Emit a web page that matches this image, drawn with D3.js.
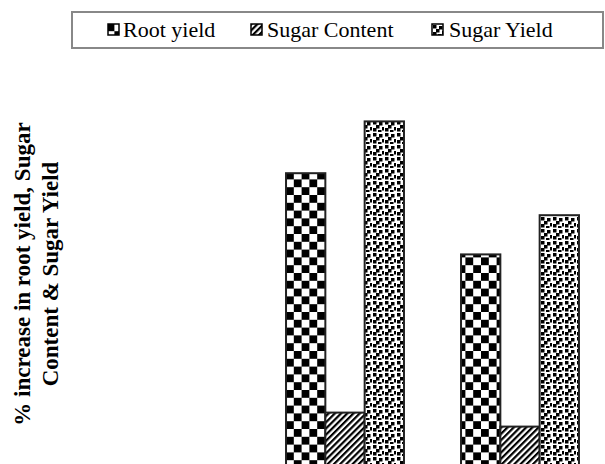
<!DOCTYPE html>
<html><head><meta charset="utf-8">
<script src="https://cdn.jsdelivr.net/npm/d3@7"></script>
<style>body{margin:0;background:#fff}svg{display:block}</style>
</head><body>
<script>
const groups = ["Group 1", "Group 2"];
const seriesNames = ["Root yield", "Sugar Content", "Sugar Yield"];
const rootYield = [21.2, 15.4];
const sugarContent = [4.1, 3.1];
const sugarYield = [24.9, 18.2];
const yTitleLines = ["% increase in root yield, Sugar", "Content & Sugar Yield"];

const W = 605, H = 464;
const svg = d3.select("body").append("svg").attr("width", W).attr("height", H);
const defs = svg.append("defs");

// checkerboard
const s = 7.8;
const pc = defs.append("pattern").attr("id", "p0").attr("patternUnits", "userSpaceOnUse")
  .attr("width", 2*s).attr("height", 2*s).attr("x", 286).attr("y", 0);
pc.append("rect").attr("width", 2*s).attr("height", 2*s).attr("fill", "#fff");
pc.append("rect").attr("width", s).attr("height", s).attr("fill", "#000");
pc.append("rect").attr("x", s).attr("y", s).attr("width", s).attr("height", s).attr("fill", "#000");
// diagonal
const pd = defs.append("pattern").attr("id", "p1").attr("patternUnits", "userSpaceOnUse")
  .attr("width", 4.4).attr("height", 4.4).attr("patternTransform", "rotate(45)");
pd.append("rect").attr("width", 4.4).attr("height", 4.4).attr("fill", "#fff");
pd.append("rect").attr("width", 2.2).attr("height", 4.4).attr("fill", "#000");
// dots
const pz = defs.append("pattern").attr("id", "p2").attr("patternUnits", "userSpaceOnUse")
  .attr("width", 12).attr("height", 12);
pz.append("rect").attr("width", 12).attr("height", 12).attr("fill", "#fff");
[[1,1],[7,2],[4,5],[10,7],[1,8],[6,10]].forEach(([x,y]) =>
  pz.append("rect").attr("x", x).attr("y", y).attr("width", 3.5).attr("height", 3.5).attr("fill", "#000"));

const x0 = d3.scaleBand().domain(groups).range([257.5, 607.5]).paddingInner(0.326).paddingOuter(0.163);
const x1 = d3.scaleBand().domain(seriesNames).range([0, x0.bandwidth()]);
const y = d3.scaleLinear().domain([0, 30]).range([470, 50]);

const series = [rootYield, sugarContent, sugarYield];
const fills = ["url(#p0)", "url(#p1)", "url(#p2)"];

const g = svg.append("g");
groups.forEach((grp, gi) => {
  seriesNames.forEach((sn, si) => {
    const v = series[si][gi];
    g.append("rect")
      .attr("x", x0(grp) + x1(sn))
      .attr("y", y(v))
      .attr("width", x1.bandwidth())
      .attr("height", y(0) - y(v))
      .attr("fill", fills[si])
      .attr("stroke", "#222").attr("stroke-width", 2);
  });
});

// y title
const yt = svg.append("text")
  .attr("transform", "translate(30,274) rotate(-90)")
  .attr("text-anchor", "middle")
  .attr("font-family", "Liberation Serif, Times New Roman, serif")
  .attr("font-weight", "bold").attr("font-size", 23);
yTitleLines.forEach((l, i) => yt.append("tspan").attr("x", 0).attr("y", i * 28).text(l));

// legend
svg.append("rect").attr("x", 72).attr("y", 12).attr("width", 531).attr("height", 36)
  .attr("fill", "#fff").attr("stroke", "#888").attr("stroke-width", 2);
const legX = [108, 251, 432];
const legTX = [123, 267, 449];
seriesNames.forEach((sn, i) => {
  svg.append("rect").attr("x", legX[i]).attr("y", 24).attr("width", 11).attr("height", 11)
    .attr("fill", fills[i]).attr("stroke", "#000").attr("stroke-width", 1.5);
  svg.append("text").attr("x", legTX[i]).attr("y", 37)
    .attr("font-family", "Liberation Serif, Times New Roman, serif").attr("font-size", 22)
    .attr("fill", "#000").text(sn);
});
</script>
</body></html>
